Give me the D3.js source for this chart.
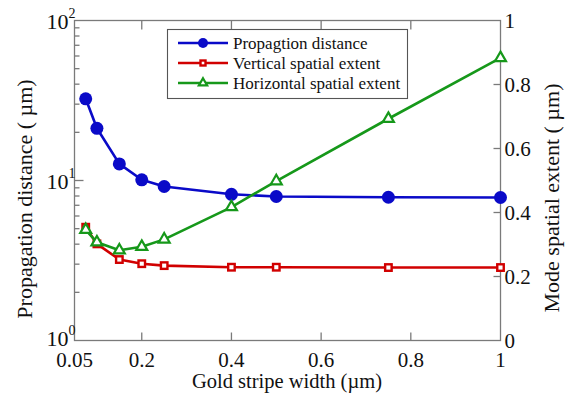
<!DOCTYPE html>
<html>
<head>
<meta charset="utf-8">
<script src="https://cdn.jsdelivr.net/npm/d3@7"></script>
</head>
<body style="margin:0;background:#fff">
<svg id="chart" width="565" height="395" style="display:block"></svg>
<script>
// Gold stripe width (µm)
const widths = [0.075, 0.1, 0.15, 0.2, 0.25, 0.4, 0.5, 0.75, 1];
// Propagation distance (µm), left log axis
const propagation = [32.4, 21.2, 12.7, 10.1, 9.17, 8.2, 7.94, 7.86, 7.83];
// Mode spatial extent (µm), right linear axis
const vertical = [0.354, 0.302, 0.253, 0.24, 0.234, 0.229, 0.229, 0.228, 0.228];
const horizontal = [0.346, 0.307, 0.282, 0.293, 0.316, 0.417, 0.498, 0.693, 0.883];

const xTicks = [0.05, 0.2, 0.4, 0.6, 0.8, 1];
const xTickLabels = ["0.05", "0.2", "0.4", "0.6", "0.8", "1"];
const leftTicks = [1, 10, 100];
const leftExponents = ["0", "1", "2"];
const rightTicks = [0, 0.2, 0.4, 0.6, 0.8, 1];
const rightTickLabels = ["0", "0.2", "0.4", "0.6", "0.8", "1"];
const seriesNames = ["Propagtion distance", "Vertical spatial extent", "Horizontal spatial extent"];

const colors = { blue: "#0a0ac8", red: "#d10000", green: "#16981a" };
const axisColor = "#7a7a7a";
const FONT = '"Liberation Serif", serif';

const svg = d3.select("#chart");
const L = 74.5, R = 500.5, T = 20.5, B = 340.5;

const x = d3.scaleLinear().domain([0.05, 1]).range([L, R]);
const yL = d3.scaleLog().domain([1, 100]).range([B, T]);
const yR = d3.scaleLinear().domain([0, 1]).range([B, T]);

function addText(parent, size) {
  return parent.append("text").style("font-family", FONT).style("font-size", size + "px")
    .attr("fill", "#111");
}

// Frame
svg.append("rect").attr("x", L).attr("y", T).attr("width", R - L).attr("height", B - T)
  .attr("fill", "none").attr("stroke", axisColor).attr("stroke-width", 1.3);

const tickG = svg.append("g").attr("stroke", axisColor).attr("stroke-width", 1.3);

// Bottom and top ticks (inward)
xTicks.slice(1, -1).forEach(v => {
  tickG.append("line").attr("x1", x(v)).attr("x2", x(v)).attr("y1", B).attr("y2", B - 8);
  tickG.append("line").attr("x1", x(v)).attr("x2", x(v)).attr("y1", T).attr("y2", T + 9);
});

// Left log ticks: majors and minors
const minorVals = [];
[1, 10].forEach(dec => { for (let k = 2; k <= 9; k++) minorVals.push(dec * k); });
minorVals.forEach(v => {
  tickG.append("line").attr("x1", L).attr("x2", L + 5).attr("y1", yL(v)).attr("y2", yL(v));
});
tickG.append("line").attr("x1", L).attr("x2", L + 9).attr("y1", yL(10)).attr("y2", yL(10));

// Right ticks
rightTicks.slice(1, -1).forEach(v => {
  tickG.append("line").attr("x1", R).attr("x2", R - 7).attr("y1", yR(v)).attr("y2", yR(v));
});

// Tick labels
const lab = svg.append("g");
xTicks.forEach((v, i) => {
  addText(lab, 21).attr("x", x(v)).attr("y", 367).attr("text-anchor", "middle").text(xTickLabels[i]);
});
leftTicks.forEach((v, i) => {
  const t = addText(lab, 22).attr("x", L + 1).attr("y", yL(v) + (i === 0 ? 5 : 8))
    .attr("text-anchor", "end");
  t.append("tspan").text("10");
  t.append("tspan").attr("dy", -11).style("font-size", "14px").text(leftExponents[i]);
});
rightTicks.forEach((v, i) => {
  addText(lab, 21).attr("x", R + 4).attr("y", yR(v) + 7).attr("text-anchor", "start")
    .text(rightTickLabels[i]);
});

// Axis titles
addText(lab, 20.5).attr("x", 287).attr("y", 388).attr("text-anchor", "middle")
  .text("Gold stripe width (µm)");
addText(lab, 22).attr("transform", "translate(32,199) rotate(-90)").attr("text-anchor", "middle")
  .text("Propagation distance ( µm)");
addText(lab, 22).attr("transform", "translate(559,198) rotate(-90)").attr("text-anchor", "middle")
  .text("Mode spatial extent ( µm)");

// Series
const lineW = 2.6;
const pts = (ys, ysc) => widths.map((w, i) => [x(w), ysc(ys[i])]);
const line = d3.line();

function drawSeries(data, color, marker) {
  const g = svg.append("g");
  g.append("path").attr("d", line(data)).attr("fill", "none")
    .attr("stroke", color).attr("stroke-width", lineW).attr("stroke-linejoin", "round");
  data.forEach(p => marker(g, p[0], p[1], color, false));
}

function circleMarker(g, cx, cy, color, small) {
  g.append("circle").attr("cx", cx).attr("cy", cy).attr("r", small ? 5 : 6.5).attr("fill", color);
}
function squareMarker(g, cx, cy, color, small) {
  const s = small ? 5 : 6.5;
  g.append("rect").attr("x", cx - s / 2).attr("y", cy - s / 2).attr("width", s).attr("height", s)
    .attr("fill", "#fff").attr("stroke", color).attr("stroke-width", 2.4);
}
function triangleMarker(g, cx, cy, color, small) {
  g.append("path").attr("d", d3.symbol().type(d3.symbolTriangle).size(small ? 30 : 52)())
    .attr("transform", `translate(${cx},${cy})`)
    .attr("fill", "#fff").attr("stroke", color).attr("stroke-width", 2.2);
}

drawSeries(pts(propagation, yL), colors.blue, circleMarker);
drawSeries(pts(vertical, yR), colors.red, squareMarker);
drawSeries(pts(horizontal, yR), colors.green, triangleMarker);

// Legend
const leg = svg.append("g");
leg.append("rect").attr("x", 167.5).attr("y", 29.5).attr("width", 240).attr("height", 69)
  .attr("fill", "#fff").attr("stroke", "#555").attr("stroke-width", 1.1);
const legRows = [
  { name: seriesNames[0], color: colors.blue, marker: circleMarker, y: 43 },
  { name: seriesNames[1], color: colors.red, marker: squareMarker, y: 63 },
  { name: seriesNames[2], color: colors.green, marker: triangleMarker, y: 83 }
];
legRows.forEach(r => {
  leg.append("line").attr("x1", 178).attr("x2", 228).attr("y1", r.y).attr("y2", r.y)
    .attr("stroke", r.color).attr("stroke-width", lineW);
  r.marker(leg, 203, r.y, r.color, true);
  addText(leg, 17).attr("x", 233).attr("y", r.y + 5.5).text(r.name);
});
</script>
</body>
</html>
